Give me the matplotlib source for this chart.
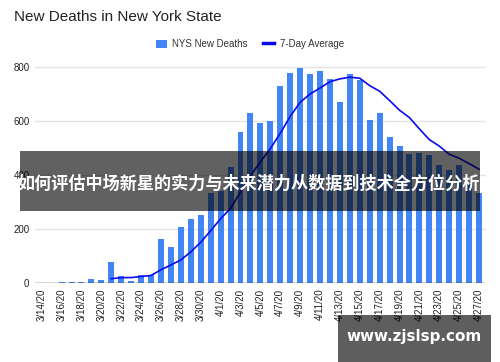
import matplotlib
matplotlib.use('Agg')
import matplotlib.pyplot as plt
from matplotlib.patches import Rectangle, Patch
from matplotlib.lines import Line2D

dates = ["3/14/20", "3/15/20", "3/16/20", "3/17/20", "3/18/20", "3/19/20", "3/20/20",
         "3/21/20", "3/22/20", "3/23/20", "3/24/20", "3/25/20", "3/26/20", "3/27/20",
         "3/28/20", "3/29/20", "3/30/20", "3/31/20", "4/1/20", "4/2/20", "4/3/20",
         "4/4/20", "4/5/20", "4/6/20", "4/7/20", "4/8/20", "4/9/20", "4/10/20",
         "4/11/20", "4/12/20", "4/13/20", "4/14/20", "4/15/20", "4/16/20", "4/17/20",
         "4/18/20", "4/19/20", "4/20/20", "4/21/20", "4/22/20", "4/23/20", "4/24/20",
         "4/25/20", "4/26/20", "4/27/20"]
deaths = [0, 0, 3, 3, 3, 16, 10, 77, 26, 6, 30, 30, 164, 134, 207, 235, 253, 332,
          340, 430, 559, 629, 592, 598, 728, 777, 796, 774, 783, 756, 670, 774, 749,
          604, 630, 541, 506, 478, 481, 472, 437, 419, 437, 367, 334]
avg_dates = dates[7:]
avg7 = [16.0, 19.7, 20.1, 24.0, 27.9, 49.0, 66.7, 85.3, 115.1, 150.4, 193.6, 237.9,
        275.9, 336.6, 396.9, 447.9, 497.1, 553.7, 616.1, 668.4, 699.1, 721.1, 744.6,
        754.9, 761.4, 757.4, 730.0, 709.4, 674.9, 639.1, 611.7, 569.9, 530.3, 506.4,
        476.3, 461.4, 441.6, 421.0]
yticks = [0, 200, 400, 600, 800]

title = "New Deaths in New York State"
bar_label = "NYS New Deaths"
line_label = "7-Day Average"
banner = "如何评估中场新星的实力与未来潜力从数据到技术全方位分析"
watermark = "www.zjslsp.com"

plt.rcParams['font.family'] = ['Liberation Sans', 'DejaVu Sans']

W, H = 500, 362
fig = plt.figure(figsize=(W / 100, H / 100), dpi=100)
ax = fig.add_axes([35 / W, 1 - 283 / H, 451 / W, (283 - 58.6) / H])

bar_color = '#4285F4'
line_color = '#0A0AF0'
ax.bar(dates, deaths, width=0.6, color=bar_color, zorder=2)
ax.plot(avg_dates, avg7, color=line_color, lw=1.2, zorder=3)

ax.set_xlim(-0.674, 44.70)
ax.set_ylim(0, 830)
for s in ax.spines.values():
    s.set_visible(False)
ax.axhline(0, color='#333333', lw=1, zorder=4)
ax.set_yticks(yticks)
ax.set_yticklabels([str(v) for v in yticks])
for v in yticks[1:]:
    ax.axhline(v, color='#e3e3e3', lw=1, zorder=1)
ax.set_xticks(dates[::2])
ax.set_xticklabels(dates[::2], rotation=90, va='top', ha='center')
ax.tick_params(axis='both', length=0, labelsize=7, colors='#222222')
ax.tick_params(axis='x', pad=4)
ax.tick_params(axis='y', pad=4)

fig.text(14 / W, 1 - 17 / H, title, fontsize=11, color='#222222', va='center', ha='left')

handles = [Patch(facecolor=bar_color, edgecolor='none', label=bar_label),
           Line2D([0], [0], color=line_color, lw=2.5, label=line_label)]
fig.legend(handles=handles, loc='center', bbox_to_anchor=(250 / W, 1 - 44 / H), ncol=2,
           frameon=False, fontsize=7, handlelength=1.1, handleheight=0.9,
           columnspacing=1.6, handletextpad=0.6, labelcolor='#333333')

# banner overlay
fig.patches.append(Rectangle((20 / W, 1 - 211 / H), 460 / W, 60 / H, transform=fig.transFigure,
                             facecolor='black', alpha=0.62, edgecolor='none', zorder=10))
fig.text(249 / W, 1 - 184 / H, banner, fontsize=12.3, fontweight='bold', color='white',
         family=['Noto Sans CJK SC', 'DejaVu Sans'], ha='center', va='center', zorder=11)

# watermark
fig.patches.append(Rectangle((338 / W, 0), 153 / W, 47 / H, transform=fig.transFigure,
                             facecolor='black', alpha=0.63, edgecolor='none', zorder=10))
fig.text(414.5 / W, 1 - 337 / H, watermark, fontsize=10.9, fontweight='bold', color='white',
         family=['DejaVu Sans'], ha='center', va='center', zorder=11)

fig.savefig('out.png', dpi=100)
